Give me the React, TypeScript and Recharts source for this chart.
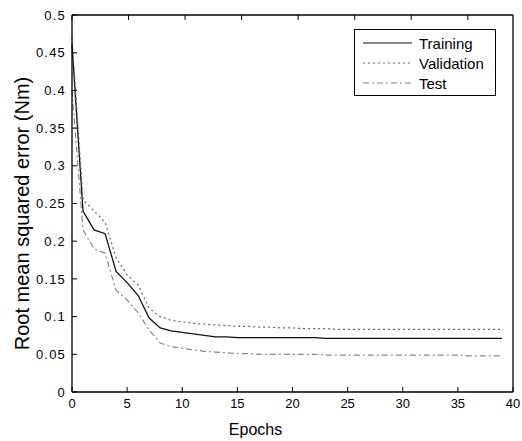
import React from 'react';
import { LineChart, Line, XAxis, YAxis, Legend, Label } from 'recharts';

const epochs = Array.from({ length: 40 }, (_, i) => i);

const training = [
  0.46, 0.24, 0.215, 0.21, 0.16, 0.145, 0.128, 0.098, 0.085, 0.081,
  0.079, 0.077, 0.075, 0.073, 0.073, 0.072, 0.072, 0.072, 0.072, 0.072,
  0.072, 0.072, 0.072, 0.071, 0.071, 0.071, 0.071, 0.071, 0.071, 0.071,
  0.071, 0.071, 0.071, 0.071, 0.071, 0.071, 0.071, 0.071, 0.071, 0.071,
];

const validation = [
  0.47, 0.255, 0.24, 0.225, 0.178, 0.155, 0.142, 0.111, 0.1, 0.095,
  0.093, 0.091, 0.09, 0.089, 0.088, 0.087, 0.087, 0.086, 0.086, 0.085,
  0.085, 0.084, 0.084, 0.084, 0.083, 0.083, 0.083, 0.083, 0.083, 0.083,
  0.083, 0.083, 0.083, 0.083, 0.083, 0.083, 0.083, 0.083, 0.083, 0.083,
];

const test = [
  0.4, 0.215, 0.19, 0.184, 0.135, 0.122, 0.105, 0.082, 0.065, 0.06,
  0.058, 0.056, 0.054, 0.053, 0.052, 0.051, 0.051, 0.05, 0.05, 0.05,
  0.05, 0.05, 0.05, 0.049, 0.049, 0.049, 0.049, 0.049, 0.049, 0.049,
  0.049, 0.049, 0.049, 0.049, 0.049, 0.049, 0.048, 0.048, 0.048, 0.048,
];

const xTicks = [0, 5, 10, 15, 20, 25, 30, 35, 40];
const yTicks = [0, 0.05, 0.1, 0.15, 0.2, 0.25, 0.3, 0.35, 0.4, 0.45, 0.5];

const data = epochs.map((e, i) => ({
  epoch: e,
  training: training[i],
  validation: validation[i],
  test: test[i],
}));

const FONT = '"Liberation Sans", Arial, Helvetica, sans-serif';

const series = [
  { key: 'training', name: 'Training', color: '#111', dash: undefined, width: 1.3 },
  { key: 'validation', name: 'Validation', color: '#666', dash: '2 3', width: 1.2 },
  { key: 'test', name: 'Test', color: '#888', dash: '6 3 2 3', width: 1.2 },
];

const LegendBox = () => (
  <div
    style={{
      border: '1px solid #000',
      background: '#fff',
      width: 142,
      height: 67,
      boxSizing: 'border-box',
      fontFamily: FONT,
      fontSize: 15,
      paddingTop: 3,
    }}
  >
    {series.map((s) => (
      <div key={s.key} style={{ display: 'flex', alignItems: 'center', height: 20 }}>
        <svg width={56} height={10} style={{ marginLeft: 8 }}>
          <line x1={0} y1={5} x2={49} y2={5} stroke={s.color} strokeWidth={1.2} strokeDasharray={s.dash} />
        </svg>
        <span style={{ color: '#000' }}>{s.name}</span>
      </div>
    ))}
  </div>
);

export default function App() {
  const tickStyle = { fontSize: 13, fill: '#000', fontFamily: FONT };
  return (
    <div style={{ position: 'absolute', left: 0, top: 0, background: '#fff' }}>
      <LineChart width={522} height={441} data={data} margin={{ top: 14, right: 8, bottom: 0, left: 0 }}>
        <XAxis
          dataKey="epoch"
          type="number"
          domain={[0, 40]}
          ticks={xTicks}
          height={49}
          tickSize={-5}
          tickMargin={12}
          stroke="#000"
          tick={tickStyle}
          axisLine={{ stroke: '#000', strokeWidth: 1.3 }}
        >
          <Label
            value="Epochs"
            position="insideBottom"
            offset={6}
            dx={-37}
            style={{ fontSize: 16, fill: '#000', fontFamily: FONT }}
          />
        </XAxis>
        <XAxis
          xAxisId="top"
          orientation="top"
          type="number"
          domain={[0, 40]}
          ticks={xTicks}
          height={1}
          tickSize={-5}
          stroke="#000"
          tickFormatter={() => ''}
          axisLine={{ stroke: '#000', strokeWidth: 1.3 }}
        />
        <YAxis
          type="number"
          domain={[0, 0.5]}
          ticks={yTicks}
          width={72}
          tickSize={-5}
          tickMargin={11}
          stroke="#000"
          tick={{ ...tickStyle, letterSpacing: 1.2 }}
          tickFormatter={(v: number) => String(v)}
          axisLine={{ stroke: '#000', strokeWidth: 1.3 }}
        >
          <Label
            value="Root mean squared error (Nm)"
            angle={-90}
            position="insideLeft"
            offset={22}
            dy={10}
            style={{ fontSize: 20, fill: '#000', fontFamily: FONT, textAnchor: 'middle' }}
          />
        </YAxis>
        <YAxis
          yAxisId="right"
          orientation="right"
          type="number"
          domain={[0, 0.5]}
          ticks={yTicks}
          width={1}
          tickSize={-5}
          stroke="#000"
          tickFormatter={() => ''}
          axisLine={{ stroke: '#000', strokeWidth: 1.3 }}
        />
        {series.map((s) => (
          <Line
            key={s.key}
            dataKey={s.key}
            name={s.name}
            type="linear"
            stroke={s.color}
            strokeWidth={s.width}
            strokeDasharray={s.dash}
            dot={false}
            activeDot={false}
            isAnimationActive={false}
          />
        ))}
        <Legend
          verticalAlign="middle"
          layout="horizontal"
          content={() => <LegendBox />}
          wrapperStyle={{ left: 354, top: 29, width: 142, height: 67 }}
        />
      </LineChart>
    </div>
  );
}
